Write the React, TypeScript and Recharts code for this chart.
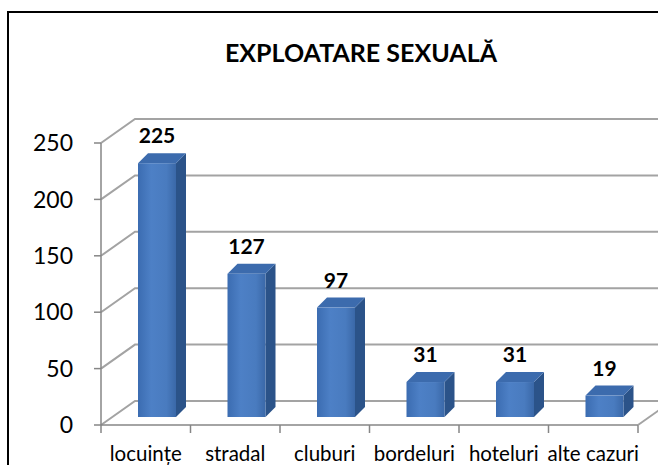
import { BarChart, Bar, XAxis, YAxis, CartesianGrid, LabelList } from 'recharts';

const categories = ['locuințe', 'stradal', 'cluburi', 'bordeluri', 'hoteluri', 'alte cazuri'];
const values = [225, 127, 97, 31, 31, 19];
const yTicks = [0, 50, 100, 150, 200, 250];

const data = categories.map((name, i) => ({ name, value: values[i] }));

// fake 3d: depth of the back wall, where the bars sit inside it, and bar thickness
const WALL_DX = 34;
const WALL_DY = 24;
const BAR_DX = 11;
const BAR_DY = 8;
const BAR_DEPTH = 10;

const CHART_W = 658;
const CHART_H = 465;
const MARGIN = { top: 143, right: 20, bottom: 0, left: 41 };
const Y_AXIS_W = 60;
const BAND = (CHART_W - MARGIN.left - Y_AXIS_W - MARGIN.right) / categories.length;

const GRID = '#a3a3a3';
const AXIS = '#868686';
const FONT = 'Lato, "Open Sans", sans-serif';

const Bar3D = (props: any) => {
  const { x, y, width, height, index } = props;
  const x0 = x + BAR_DX;
  const y0 = y - BAR_DY;
  const d = BAR_DEPTH;
  const gid = `front-${index}`;
  return (
    <g>
      <defs>
        <linearGradient id={gid} x1="0" y1="0" x2="1" y2="0">
          <stop offset="0%" stopColor="#3b6cb1" />
          <stop offset="35%" stopColor="#4d80c6" />
          <stop offset="75%" stopColor="#497bbf" />
          <stop offset="100%" stopColor="#3a68a8" />
        </linearGradient>
      </defs>
      <polygon
        points={`${x0 + width},${y0} ${x0 + width + d},${y0 - d} ${x0 + width + d},${y0 + height - d} ${x0 + width},${y0 + height}`}
        fill="#2b5389"
      />
      <polygon
        points={`${x0},${y0} ${x0 + d},${y0 - d} ${x0 + width + d},${y0 - d} ${x0 + width},${y0}`}
        fill="#3c6bad"
      />
      <rect x={x0} y={y0} width={width} height={height} fill={`url(#${gid})`} />
    </g>
  );
};

const ValueLabel = (props: any) => {
  const box = props.viewBox ?? props;
  const { x, y, width } = box;
  return (
    <text
      x={x + width / 2 + BAR_DX}
      y={y - BAR_DY - 20}
      textAnchor="middle"
      fontFamily={FONT}
      fontWeight="bold"
      fontSize={21}
      fill="#000"
    >
      {props.value}
    </text>
  );
};

const WallLine = (props: any) => {
  const { x1, y1, x2 } = props;
  return (
    <polyline
      key={props.key}
      points={`${x1},${y1} ${x1 + WALL_DX},${y1 - WALL_DY} ${x2 + WALL_DX},${y1 - WALL_DY}`}
      fill="none"
      stroke={GRID}
      strokeWidth={2}
    />
  );
};

const CategoryTick = (props: any) => {
  const { x, y, payload, index } = props;
  const left = x - BAND / 2;
  const right = x + BAND / 2;
  const last = index === categories.length - 1;
  return (
    <g>
      <line x1={left} y1={y} x2={left} y2={y + 8} stroke={AXIS} strokeWidth={1.5} />
      {last && (
        <>
          <line x1={right} y1={y} x2={right} y2={y + 8} stroke={AXIS} strokeWidth={1.5} />
          <line x1={right} y1={y} x2={right + WALL_DX} y2={y - WALL_DY} stroke={GRID} strokeWidth={2} />
        </>
      )}
      <text x={x} y={y + 36} textAnchor="middle" fontFamily={FONT} fontSize={20.5} fill="#000">
        {payload.value}
      </text>
    </g>
  );
};

export default function App() {
  return (
    <div style={{ position: 'absolute', left: 0, top: 0, width: CHART_W, height: CHART_H, background: '#fff' }}>
      <div
        style={{
          position: 'absolute',
          left: 7,
          top: 11,
          width: CHART_W - 9,
          height: CHART_H - 13,
          borderLeft: '2px solid #000',
          borderTop: '2px solid #000',
        }}
      />
      <div
        style={{
          position: 'absolute',
          left: 0,
          width: CHART_W,
          top: 37,
          textAlign: 'center',
          paddingLeft: 64,
          boxSizing: 'border-box',
          fontFamily: FONT,
          fontWeight: 'bold',
          fontSize: 25,
          lineHeight: '30px',
          color: '#000',
        }}
      >
        EXPLOATARE SEXUALĂ
      </div>
      <BarChart width={CHART_W} height={CHART_H} data={data} margin={MARGIN} barSize={38}>
        <CartesianGrid vertical={false} horizontal={WallLine} />
        <XAxis
          dataKey="name"
          height={40}
          interval={0}
          tickLine={false}
          tickSize={0}
          tickMargin={0}
          axisLine={{ stroke: AXIS, strokeWidth: 1.5 }}
          tick={<CategoryTick />}
        />
        <YAxis
          domain={[0, 250]}
          ticks={yTicks}
          interval={0}
          width={Y_AXIS_W}
          tickSize={7}
          tickMargin={21}
          axisLine={{ stroke: AXIS, strokeWidth: 1.5 }}
          tickLine={{ stroke: AXIS, strokeWidth: 1.5 }}
          tick={{ fill: '#000', fontSize: 23, fontFamily: FONT }}
        />
        <Bar dataKey="value" shape={<Bar3D />} isAnimationActive={false}>
          <LabelList dataKey="value" content={<ValueLabel />} />
        </Bar>
      </BarChart>
    </div>
  );
}
